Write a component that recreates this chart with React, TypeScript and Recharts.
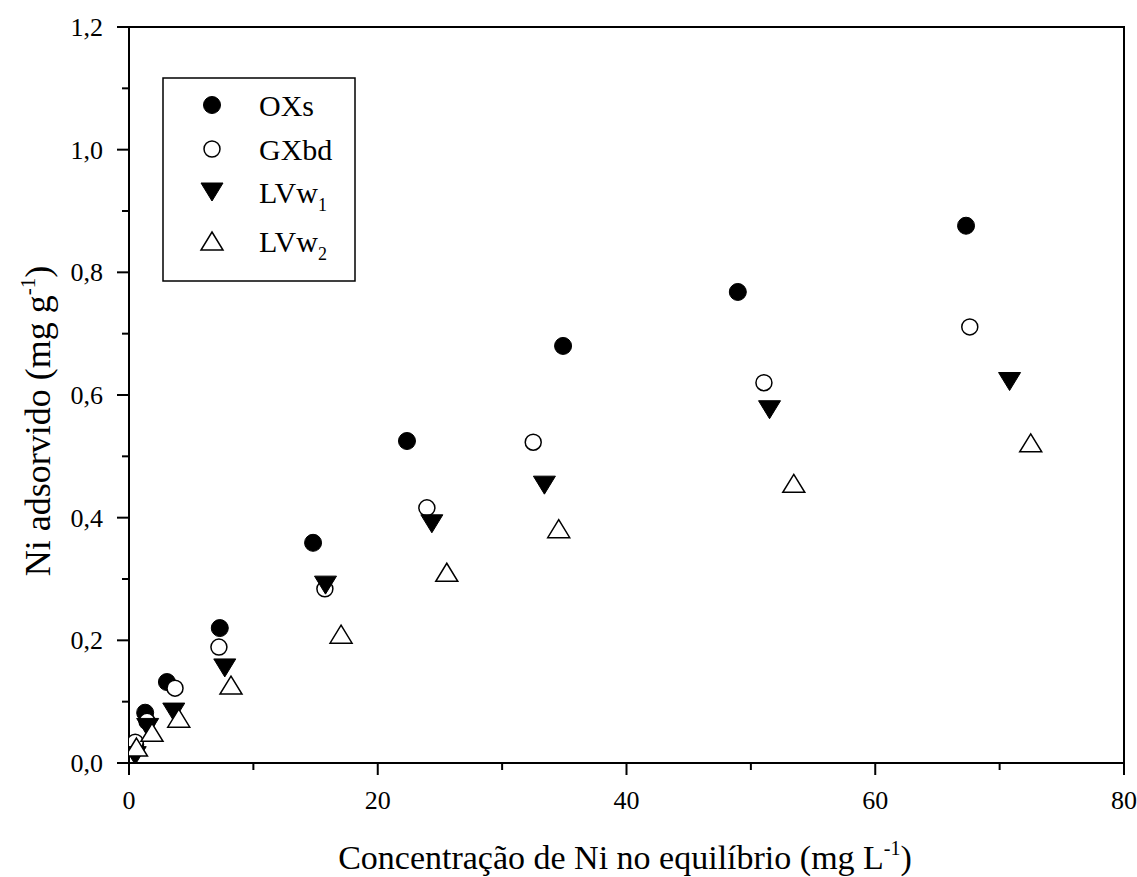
import React from 'react';
import { ScatterChart, Scatter, XAxis, YAxis, ReferenceArea, Legend } from 'recharts';

const FONT = '"Liberation Serif", "Times New Roman", serif';

const oxsX = [0.5, 1.3, 3.05, 7.3, 14.8, 22.35, 34.9, 48.95, 67.3];
const oxsY = [0.03, 0.082, 0.132, 0.22, 0.359, 0.525, 0.68, 0.768, 0.876];

const gxbdX = [0.5, 1.45, 3.7, 7.23, 15.75, 23.95, 32.5, 51.05, 67.6];
const gxbdY = [0.034, 0.068, 0.122, 0.189, 0.284, 0.416, 0.523, 0.62, 0.711];

const lvw1X = [0.5, 1.5, 3.6, 7.7, 15.8, 24.35, 33.4, 51.5, 70.8];
const lvw1Y = [0.012, 0.058, 0.083, 0.155, 0.29, 0.39, 0.453, 0.576, 0.622];

const lvw2X = [0.6, 1.85, 4.0, 8.2, 17.05, 25.55, 34.55, 53.45, 72.5];
const lvw2Y = [0.026, 0.05, 0.073, 0.127, 0.21, 0.311, 0.382, 0.456, 0.522];

const xTicks = [0, 10, 20, 30, 40, 50, 60, 70, 80];
const yTicks = [0, 0.1, 0.2, 0.3, 0.4, 0.5, 0.6, 0.7, 0.8, 0.9, 1.0, 1.1, 1.2];

const toPoints = (xs: number[], ys: number[]) => xs.map((x, i) => ({ x, y: ys[i] }));

const FilledCircle = (p: any) => <circle cx={p.cx} cy={p.cy} r={8.5} fill="#000" stroke="#000" strokeWidth={1} />;
const OpenCircle = (p: any) => <circle cx={p.cx} cy={p.cy} r={8} fill="#fff" stroke="#000" strokeWidth={1.5} />;
const DownTri = (p: any) => (
  <polygon points={`${p.cx - 11},${p.cy - 9} ${p.cx + 11},${p.cy - 9} ${p.cx},${p.cy + 9}`} fill="#000" stroke="#000" strokeWidth={1} />
);
const UpTri = (p: any) => (
  <polygon points={`${p.cx},${p.cy - 9} ${p.cx + 11},${p.cy + 9} ${p.cx - 11},${p.cy + 9}`} fill="#fff" stroke="#000" strokeWidth={1.5} />
);

const XTick = (props: any) => {
  const { x, y, payload } = props;
  const major = payload.value % 20 === 0;
  return (
    <g>
      <line x1={x} y1={y} x2={x} y2={y + (major ? 12 : 7)} stroke="#000" strokeWidth={2} />
      {major && (
        <text x={x} y={y + 46} textAnchor="middle" fontSize={26} fontFamily={FONT} fill="#000">
          {payload.value}
        </text>
      )}
    </g>
  );
};

const YTick = (props: any) => {
  const { x, y, payload } = props;
  const major = Math.round(payload.value * 10) % 2 === 0;
  return (
    <g>
      <line x1={x} y1={y} x2={x - (major ? 12 : 7)} y2={y} stroke="#000" strokeWidth={2} />
      {major && (
        <text x={x - 26} y={y + 9} textAnchor="end" fontSize={26} fontFamily={FONT} fill="#000">
          {payload.value.toFixed(1).replace('.', ',')}
        </text>
      )}
    </g>
  );
};

const XTitle = () => (
  <text x={625} y={869} textAnchor="middle" fontSize={34} fontFamily={FONT} fill="#000">
    Concentração de Ni no equilíbrio (mg L
    <tspan dy={-14} fontSize={20}>-1</tspan>
    <tspan dy={14}>)</tspan>
  </text>
);

const YTitle = () => (
  <text x={50} y={421} transform="rotate(-90, 50, 421)" textAnchor="middle" fontSize={36} fontFamily={FONT} fill="#000">
    Ni adsorvido (mg g
    <tspan dy={-15} fontSize={21}>-1</tspan>
    <tspan dy={15}>)</tspan>
  </text>
);

const legendItems = [
  { name: 'OXs', sub: '', Shape: FilledCircle, y: 28 },
  { name: 'GXbd', sub: '', Shape: OpenCircle, y: 72 },
  { name: 'LVw', sub: '1', Shape: DownTri, y: 115 },
  { name: 'LVw', sub: '2', Shape: UpTri, y: 164 },
];

const LegendBox = () => (
  <svg width={194} height={205}>
    <rect x={1} y={1} width={192} height={203} fill="#fff" stroke="#000" strokeWidth={1.5} />
    {legendItems.map((it, i) => (
      <g key={i}>
        <it.Shape cx={50} cy={it.y} />
        <text x={97} y={it.y + 11} fontSize={30} fontFamily={FONT} fill="#000">
          {it.name}
          {it.sub && (
            <tspan dy={8} fontSize={18}>
              {it.sub}
            </tspan>
          )}
        </text>
      </g>
    ))}
  </svg>
);

export default function App() {
  return (
    <div style={{ position: 'absolute', left: 0, top: 0, background: '#fff' }}>
      <ScatterChart width={1137} height={877} margin={{ top: 27, right: 13, left: 0, bottom: 0 }}>
        <XAxis
          type="number"
          dataKey="x"
          domain={[0, 80]}
          ticks={xTicks}
          interval={0}
          allowDataOverflow
          tickSize={0}
          tickMargin={0}
          tickLine={false}
          height={114}
          axisLine={{ stroke: '#000', strokeWidth: 2 }}
          tick={<XTick />}
          label={<XTitle />}
        />
        <YAxis
          type="number"
          dataKey="y"
          domain={[0, 1.2]}
          ticks={yTicks}
          interval={0}
          allowDataOverflow
          tickSize={0}
          tickMargin={0}
          tickLine={false}
          width={129}
          axisLine={{ stroke: '#000', strokeWidth: 2 }}
          tick={<YTick />}
          label={<YTitle />}
        />
        <ReferenceArea x1={0} x2={80} y1={0} y2={1.2} fill="none" stroke="#000" strokeWidth={2} ifOverflow="visible" />
        <Scatter name="OXs" data={toPoints(oxsX, oxsY)} shape={FilledCircle} isAnimationActive={false} />
        <Scatter name="GXbd" data={toPoints(gxbdX, gxbdY)} shape={OpenCircle} isAnimationActive={false} />
        <Scatter name="LVw1" data={toPoints(lvw1X, lvw1Y)} shape={DownTri} isAnimationActive={false} />
        <Scatter name="LVw2" data={toPoints(lvw2X, lvw2Y)} shape={UpTri} isAnimationActive={false} />
        <Legend
          layout="vertical"
          align="center"
          verticalAlign="middle"
          content={() => <LegendBox />}
          wrapperStyle={{ left: 162, top: 77, width: 194, height: 205 }}
        />
      </ScatterChart>
    </div>
  );
}
